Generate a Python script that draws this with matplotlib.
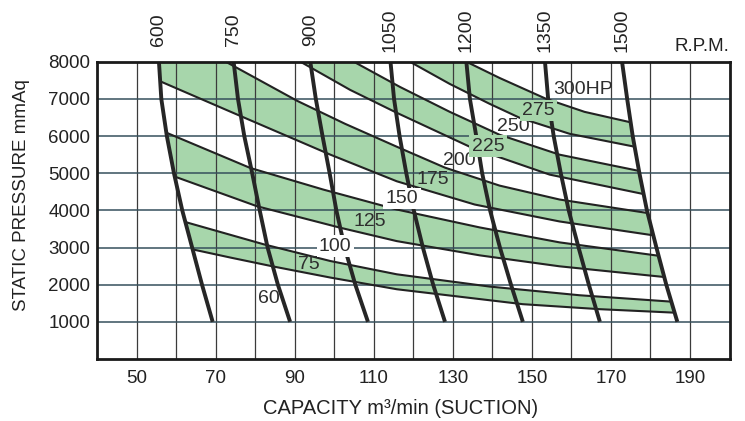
import matplotlib
matplotlib.use("Agg")
import matplotlib.pyplot as plt
from matplotlib.patches import Polygon
import matplotlib.transforms as mtransforms

plt.rcParams['font.family'] = ['Liberation Sans', 'DejaVu Sans']

# ---------------- data ----------------
pressure = [8000, 7000, 6000, 5000, 4000, 3000, 2000, 1000]

rpm_labels = ['600', '750', '900', '1050', '1200', '1350', '1500']
rpm600 = [55.6, 56.2, 57.6, 59.4, 61.5, 64.0, 66.5, 69.2]
rpm750 = [74.5, 75.6, 77.2, 79.2, 81.1, 83.1, 85.7, 88.8]
rpm900 = [93.9, 95.3, 97.0, 98.8, 100.5, 102.6, 105.3, 108.5]
rpm1050 = [114.2, 115.1, 116.5, 118.2, 120.1, 122.4, 125.0, 128.0]
rpm1200 = [133.4, 134.3, 135.9, 137.4, 139.4, 141.9, 144.7, 147.7]
rpm1350 = [153.3, 154.1, 155.5, 157.3, 159.3, 161.8, 164.4, 167.2]
rpm1500 = [172.8, 174.1, 175.5, 177.2, 179.1, 181.5, 184.0, 186.8]

# horsepower zone boundaries (from low HP to high HP)
b1_x = [64.1, 73.8, 84.7, 99.0, 115.8, 147.7, 167.1, 187.5]
b1_y = [2950, 2727, 2486, 2191, 1877, 1475, 1341, 1240]
b2_x = [62.4, 82.2, 99.0, 115.8, 139.3, 162.0, 186.3]
b2_y = [3682, 3084, 2636, 2279, 1949, 1716, 1536]
b3_x = [59.4, 80.4, 101.5, 115.8, 136.8, 157.0, 185.0]
b3_y = [4916, 4111, 3532, 3172, 2789, 2494, 2190]
b4_x = [57.7, 78.7, 97.2, 115.8, 136.8, 157.0, 184.0]
b4_y = [6080, 5141, 4559, 4023, 3540, 3138, 2750]
b5_x = [56.1, 73.8, 99.0, 115.8, 135.5, 157.0, 182.5]
b5_y = [7464, 6650, 5498, 4782, 4157, 3701, 3300]
b6_x = [72.5, 90.6, 102.7, 115.8, 128.0, 141.8, 157.0, 181.0]
b6_y = [8000, 6946, 6329, 5712, 5149, 4666, 4291, 3900]
b7_x = [91.4, 104.0, 115.8, 134.8, 154.5, 180.0]
b7_y = [8000, 7241, 6625, 5685, 4961, 4400]
b8_x = [104.9, 116.6, 129.2, 141.8, 157.0, 179.0]
b8_y = [8000, 7321, 6651, 6034, 5498, 5020]
b9_x = [119.1, 129.2, 139.3, 146.9, 159.5, 178.0]
b9_y = [8000, 7402, 6866, 6490, 6061, 5670]
b10_x = [133.4, 141.8, 153.6, 163.3, 177.0]
b10_y = [8000, 7563, 7000, 6651, 6320]

zone_labels = ['60', '75', '100', '125', '150', '175', '200', '225', '250', '275', '300HP']
zone_x = [83.5, 93.5, 100.2, 108.9, 117.1, 124.8, 131.5, 138.9, 145.3, 151.7, 162.9]
zone_y = [1630, 2534, 3038, 3709, 4318, 4827, 5350, 5726, 6262, 6691, 7241]
zone_bg = [None, None, 'white', None, 'white', None, None, 'green', None, 'green', None]

x_ticks = [50, 70, 90, 110, 130, 150, 170, 190]
x_grid = [50, 60, 70, 80, 90, 100, 110, 120, 130, 140, 150, 160, 170, 180, 190]
y_ticks = [1000, 2000, 3000, 4000, 5000, 6000, 7000, 8000]

# ---------------- style ----------------
GREEN = '#a7d6ab'
INK = '#222222'
W, H = 745, 421

fig = plt.figure(figsize=(W / 100, H / 100), dpi=100)
fig.patch.set_facecolor('white')
ax = fig.add_axes([97.3 / W, (H - 359) / H, (729.5 - 97.3) / W, (359 - 61.7) / H])
ax.set_xlim(40, 200)
ax.set_ylim(0, 8000)

# grid
ax.set_xticks(x_ticks)
ax.set_xticks(x_grid, minor=True)
ax.set_yticks(y_ticks)
ax.xaxis.grid(True, which='both', color='#3b3b3b', lw=0.9)
ax.yaxis.grid(True, which='major', color='#36505c', lw=1.1)
ax.set_axisbelow(False)
ax.tick_params(axis='both', which='both', length=0, colors=INK, labelsize=13.5)
ax.tick_params(axis='x', pad=8)
ax.tick_params(axis='y', pad=5)
for s in ax.spines.values():
    s.set_linewidth(2.0)
    s.set_color('#1a1a1a')
    s.set_zorder(6)

# clip region between the 600 and 1500 rpm lines
region = list(zip(rpm600, pressure)) + list(zip(rpm1500[::-1], pressure[::-1]))
clip = Polygon(region, closed=True, transform=ax.transData)

bounds = [(b1_x, b1_y), (b2_x, b2_y), (b3_x, b3_y), (b4_x, b4_y), (b5_x, b5_y),
          (b6_x, b6_y), (b7_x, b7_y), (b8_x, b8_y), (b9_x, b9_y), (b10_x, b10_y)]

# green bands between pairs of boundaries
for i in range(0, 10, 2):
    lo_x, lo_y = bounds[i]
    hi_x, hi_y = bounds[i + 1]
    verts = list(zip(lo_x, lo_y))
    verts += [(ax.get_xlim()[1] - 5, lo_y[-1]), (ax.get_xlim()[1] - 5, hi_y[-1])]
    verts += list(zip(hi_x[::-1], hi_y[::-1]))
    if lo_y[0] < max(pressure):
        verts += [(ax.get_xlim()[0] + 5, hi_y[0]), (ax.get_xlim()[0] + 5, lo_y[0])]
    p = Polygon(verts, closed=True, facecolor=GREEN, edgecolor='none', zorder=1)
    ax.add_patch(p)
    p.set_clip_path(clip)

for bx, by in bounds:
    ln, = ax.plot(bx, by, color=INK, lw=1.5, zorder=3, solid_capstyle='butt')
    ln.set_clip_path(clip)

trans = mtransforms.blended_transform_factory(ax.transData, ax.transAxes)
rpm_lines = [rpm600, rpm750, rpm900, rpm1050, rpm1200, rpm1350, rpm1500]
for rx, lab in zip(rpm_lines, rpm_labels):
    ax.plot(rx, pressure, color='#262626', lw=2.8, zorder=4, solid_capstyle='butt')
    ax.text(rx[0], (359 - 30) / (359 - 61.7), lab, rotation=90, transform=trans,
            ha='center', va='center', fontsize=14, color=INK)

ax.text(1.0, (359 - 47) / (359 - 61.7), 'R.P.M.', transform=ax.transAxes,
        ha='right', va='center', fontsize=13.5, color=INK)

for lab, lx, ly, bg in zip(zone_labels, zone_x, zone_y, zone_bg):
    kw = {}
    if bg is not None:
        kw['bbox'] = dict(boxstyle='square,pad=0.12',
                          facecolor=('white' if bg == 'white' else GREEN),
                          edgecolor='none')
    ax.text(lx, ly, lab, ha='center', va='center', fontsize=14, color='#2e2e2e',
            zorder=5, **kw)

fig.text(21.7 / W, 1 - 195.5 / H, 'STATIC PRESSURE mmAq', rotation=90,
         ha='center', va='center', fontsize=13.5, color=INK)
fig.text(401 / W, 1 - 409 / H, 'CAPACITY m\u00b3/min (SUCTION)',
         ha='center', va='center', fontsize=14.5, color=INK)

fig.savefig('out.png', dpi=100, facecolor='white')
